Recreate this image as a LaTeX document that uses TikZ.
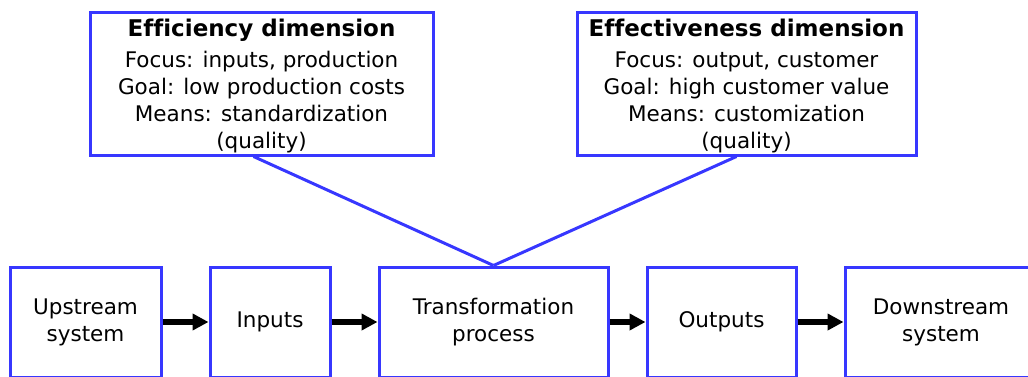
\documentclass[tikz,border=0pt]{standalone}
\usepackage{fontspec}
\setmainfont[Ligatures={NoCommon}]{DejaVu Sans}
\usetikzlibrary{arrows.meta}
\definecolor{boxblue}{RGB}{55,55,255}
\begin{document}
\begin{tikzpicture}[x=1pt,y=1pt]
\useasboundingbox (0,0) rectangle (1028,376);
\clip (0,0) rectangle (1028,376);
\begin{scope}[every node/.style = {draw=boxblue, line width=3pt, align=center,
  font=\fontsize{21.5}{27}\selectfont}]
\node[minimum width=343pt, minimum height=143pt, text height=129pt, text depth=0pt] (Eff) at (261.5, 292.5)
  {{\fontsize{23}{27}\bfseries Efficiency dimension}\\[4pt]Focus: inputs, production\\Goal: low production costs\\Means: standardization\\(quality)};
\node[minimum width=339pt, minimum height=143pt, text height=129pt, text depth=0pt] (Eft) at (746.5, 292.5)
  {{\fontsize{23}{27}\bfseries Effectiveness dimension}\\[4pt]Focus: output, customer\\Goal: high customer value\\Means: customization\\(quality)};
\node[minimum width=151pt, minimum height=110pt] (Up) at (85.5, 54) {Upstream\\system};
\node[minimum width=120pt, minimum height=110pt] (In) at (270, 54) {Inputs};
\node[minimum width=229pt, minimum height=110pt] (Tr) at (493.5, 54) {Transformation\\process};
\node[minimum width=149pt, minimum height=110pt] (Out) at (721.5, 54) {Outputs};
\node[minimum width=192pt, minimum height=110pt] (Down) at (941, 54) {Downstream\\system};
\end{scope}
\begin{scope}[every edge/.style = {draw, black, line width=6pt, -{Triangle[length=16pt, width=16pt]}}]
\path (Up) edge (In);
\path (In) edge (Tr);
\path (Tr) edge (Out);
\path (Out) edge (Down);
\end{scope}
\begin{scope}[every edge/.style = {draw=boxblue, line width=3pt}]
\path ([xshift=-8pt]Eff.south) edge (Tr.north);
\path ([xshift=-10pt]Eft.south) edge (Tr.north);
\end{scope}
\end{tikzpicture}
\end{document}
